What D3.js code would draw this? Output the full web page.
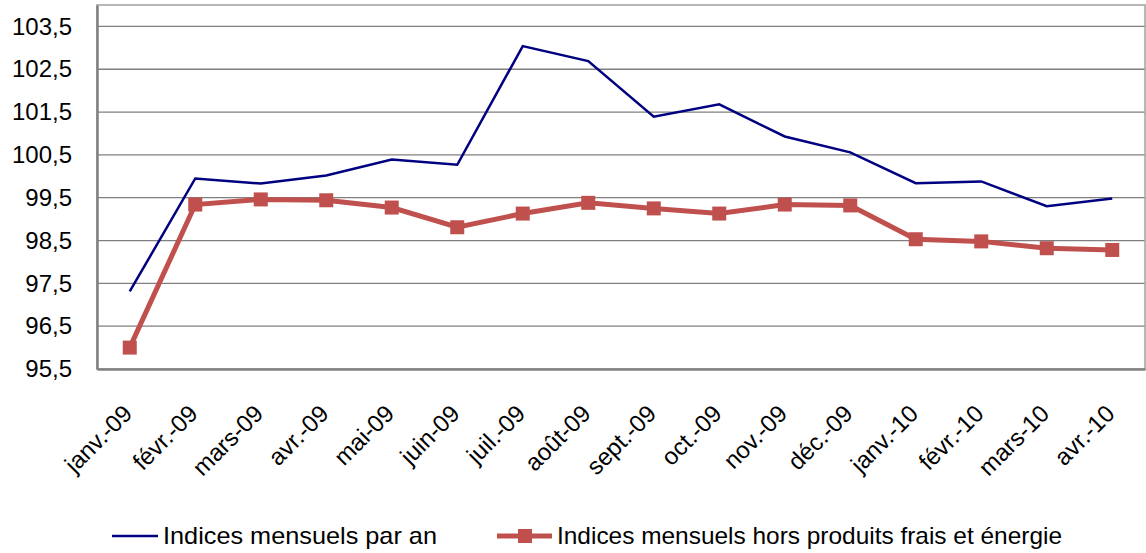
<!DOCTYPE html>
<html>
<head>
<meta charset="utf-8">
<script src="https://cdn.jsdelivr.net/npm/d3@7"></script>
<style>
  body { margin: 0; background: #fff; }
  svg text { font-family: "Liberation Sans", Arial, sans-serif; fill: #000; }
</style>
</head>
<body>
<div id="chart"></div>
<script>
// months shown on the x axis
const months = ["janv.-09", "févr.-09", "mars-09", "avr.-09", "mai-09", "juin-09", "juil.-09", "août-09",
  "sept.-09", "oct.-09", "nov.-09", "déc.-09", "janv.-10", "févr.-10", "mars-10", "avr.-10"];

// Indices mensuels par an
const indicesAn = [97.31, 99.95, 99.83, 100.02, 100.39, 100.27, 103.04, 102.69,
  101.39, 101.68, 100.93, 100.56, 99.84, 99.88, 99.30, 99.48];

// Indices mensuels hors produits frais et énergie
const indicesHors = [96.0, 99.34, 99.46, 99.44, 99.27, 98.81, 99.13, 99.38,
  99.25, 99.13, 99.34, 99.32, 98.53, 98.48, 98.32, 98.28];

const yTicks = [95.5, 96.5, 97.5, 98.5, 99.5, 100.5, 101.5, 102.5, 103.5];

const seriesNames = ["Indices mensuels par an", "Indices mensuels hors produits frais et énergie"];

const width = 1146;
const height = 553;
const margin = {top: 5, right: 1, bottom: 184, left: 97};
const plotW = width - margin.left - margin.right;
const plotH = height - margin.top - margin.bottom;
const fontSize = 24;

const blue = "#000080";
const red = "#c0504d";

const svg = d3.select("#chart").append("svg")
  .attr("width", width)
  .attr("height", height);

const g = svg.append("g")
  .attr("transform", `translate(${margin.left}, ${margin.top})`);

const x = d3.scaleBand()
  .domain(months)
  .range([0, plotW]);

const y = d3.scaleLinear()
  .domain([95.5, 104])
  .range([plotH, 0]);

const xPos = d => x(d) + x.bandwidth() / 2;

// gridlines
g.append("g")
  .selectAll("line")
  .data(yTicks.slice(1))
  .join("line")
  .attr("x1", 0)
  .attr("x2", plotW)
  .attr("y1", d => y(d))
  .attr("y2", d => y(d))
  .attr("stroke", "#7f7f7f")
  .attr("stroke-width", 1.3);

// plot border
g.append("rect")
  .attr("x", 0)
  .attr("y", 0)
  .attr("width", plotW)
  .attr("height", plotH)
  .attr("fill", "none")
  .attr("stroke", "#a0a0a0")
  .attr("stroke-width", 1.5);

// y axis
const yAxis = d3.axisLeft(y)
  .tickValues(yTicks)
  .tickSize(0)
  .tickPadding(25)
  .tickFormat(d => d3.format(".1f")(d).replace(".", ","));

const yAxisG = g.append("g").call(yAxis);
yAxisG.select(".domain").attr("stroke", "#808080").attr("stroke-width", 2.5);
yAxisG.selectAll("text").attr("font-size", fontSize);

// x axis
const xAxis = d3.axisBottom(x).tickSize(0).tickPadding(0);
const xAxisG = g.append("g")
  .attr("transform", `translate(0, ${plotH})`)
  .call(xAxis);
xAxisG.select(".domain").attr("stroke", "#808080").attr("stroke-width", 2.5);
xAxisG.selectAll("text")
  .attr("font-size", fontSize)
  .attr("text-anchor", "end")
  .attr("dy", 0)
  .attr("transform", "translate(4, 46) rotate(-45)");

// lines
const line = d3.line()
  .x((d, i) => xPos(months[i]))
  .y(d => y(d));

g.append("path")
  .datum(indicesAn)
  .attr("fill", "none")
  .attr("stroke", blue)
  .attr("stroke-width", 2.5)
  .attr("d", line);

g.append("path")
  .datum(indicesHors)
  .attr("fill", "none")
  .attr("stroke", red)
  .attr("stroke-width", 5)
  .attr("d", line);

const mSize = 14;
g.append("g")
  .selectAll("rect")
  .data(indicesHors)
  .join("rect")
  .attr("x", (d, i) => xPos(months[i]) - mSize / 2)
  .attr("y", d => y(d) - mSize / 2)
  .attr("width", mSize)
  .attr("height", mSize)
  .attr("fill", red);

// legend
const legY = 536;
const leg = svg.append("g");

leg.append("line")
  .attr("x1", 112).attr("x2", 158)
  .attr("y1", legY).attr("y2", legY)
  .attr("stroke", blue)
  .attr("stroke-width", 2.5);

leg.append("text")
  .attr("x", 163)
  .attr("y", legY)
  .attr("dy", "0.35em")
  .attr("font-size", fontSize)
  .attr("textLength", 274)
  .attr("lengthAdjust", "spacingAndGlyphs")
  .text(seriesNames[0]);

leg.append("line")
  .attr("x1", 497).attr("x2", 552)
  .attr("y1", legY).attr("y2", legY)
  .attr("stroke", red)
  .attr("stroke-width", 5);

leg.append("rect")
  .attr("x", 525 - mSize / 2)
  .attr("y", legY - mSize / 2)
  .attr("width", mSize)
  .attr("height", mSize)
  .attr("fill", red);

leg.append("text")
  .attr("x", 557)
  .attr("y", legY)
  .attr("dy", "0.35em")
  .attr("font-size", fontSize)
  .attr("textLength", 505)
  .attr("lengthAdjust", "spacingAndGlyphs")
  .text(seriesNames[1]);
</script>
</body>
</html>
